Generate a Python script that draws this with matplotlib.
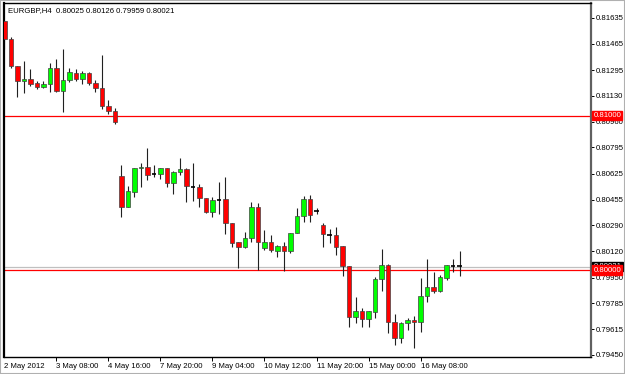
import matplotlib
matplotlib.use('Agg')
import matplotlib.pyplot as plt
import matplotlib.transforms as mtransforms
from matplotlib.patches import Rectangle
import numpy as np

plt.rcParams['font.family'] = ['Liberation Sans', 'DejaVu Sans']

# EURGBP H4 candles, 2 May 2012 00:00 onwards
opens = [0.81614, 0.81495, 0.81322, 0.81223, 0.81236, 0.81210, 0.81186, 0.81203, 0.81309, 0.81160,
         0.81229, 0.81279, 0.81240, 0.81275, 0.81214, 0.81181, 0.81065, 0.81032, 0.80609, 0.80410,
         0.80507, 0.80659, 0.80669, 0.80622, 0.80620, 0.80659, 0.80562, 0.80637, 0.80653, 0.80542,
         0.80536, 0.80465, 0.80378, 0.80458, 0.80458, 0.80307, 0.80183, 0.80151, 0.80209, 0.80410,
         0.80141, 0.80183, 0.80123, 0.80156, 0.80125, 0.80238, 0.80350, 0.80458, 0.80382, 0.80292,
         0.80233, 0.80227, 0.80156, 0.80028, 0.79697, 0.79734, 0.79682, 0.79730, 0.79940, 0.80032,
         0.79665, 0.79557, 0.79658, 0.79676, 0.79663, 0.79831, 0.79887, 0.79866, 0.79951, 0.80028,
         0.80025]
highs = [0.81614, 0.81512, 0.81322, 0.81356, 0.81301, 0.81225, 0.81225, 0.81340, 0.81369, 0.81430,
         0.81311, 0.81301, 0.81290, 0.81285, 0.81231, 0.81393, 0.81102, 0.81048, 0.80680, 0.80544,
         0.80659, 0.80695, 0.80789, 0.80680, 0.80659, 0.80659, 0.80644, 0.80724, 0.80659, 0.80692,
         0.80557, 0.80465, 0.80475, 0.80572, 0.80605, 0.80307, 0.80183, 0.80248, 0.80443, 0.80436,
         0.80259, 0.80227, 0.80162, 0.80183, 0.80242, 0.80400, 0.80480, 0.80486, 0.80400, 0.80307,
         0.80266, 0.80281, 0.80156, 0.80028, 0.79823, 0.79752, 0.79734, 0.79957, 0.80134, 0.80037,
         0.79715, 0.79665, 0.79689, 0.79702, 0.79948, 0.80069, 0.79987, 0.79968, 0.80032, 0.80071,
         0.80126]
lows = [0.81430, 0.81307, 0.81123, 0.81149, 0.81192, 0.81173, 0.81178, 0.81156, 0.81156, 0.81026,
        0.81220, 0.81225, 0.81205, 0.81199, 0.81156, 0.81043, 0.81011, 0.80946, 0.80345, 0.80406,
        0.80471, 0.80540, 0.80583, 0.80601, 0.80588, 0.80540, 0.80493, 0.80616, 0.80439, 0.80447,
        0.80410, 0.80371, 0.80345, 0.80363, 0.80231, 0.80147, 0.80015, 0.80141, 0.80180, 0.80000,
        0.80130, 0.80115, 0.80086, 0.79995, 0.80112, 0.80238, 0.80313, 0.80313, 0.80361, 0.80151,
        0.80175, 0.80097, 0.79963, 0.79629, 0.79658, 0.79629, 0.79633, 0.79687, 0.79864, 0.79594,
        0.79514, 0.79529, 0.79611, 0.79493, 0.79600, 0.79793, 0.79853, 0.79859, 0.79935, 0.79989,
        0.79959]
closes = [0.81495, 0.81322, 0.81225, 0.81238, 0.81203, 0.81186, 0.81203, 0.81309, 0.81160, 0.81231,
          0.81283, 0.81240, 0.81275, 0.81214, 0.81181, 0.81065, 0.81032, 0.80961, 0.80410, 0.80512,
          0.80659, 0.80669, 0.80616, 0.80616, 0.80659, 0.80562, 0.80637, 0.80653, 0.80544, 0.80536,
          0.80465, 0.80378, 0.80454, 0.80452, 0.80303, 0.80177, 0.80151, 0.80205, 0.80410, 0.80183,
          0.80183, 0.80130, 0.80156, 0.80125, 0.80242, 0.80350, 0.80458, 0.80356, 0.80380, 0.80233,
          0.80227, 0.80152, 0.80028, 0.79697, 0.79734, 0.79682, 0.79734, 0.79940, 0.80032, 0.79665,
          0.79557, 0.79657, 0.79676, 0.79665, 0.79831, 0.79887, 0.79866, 0.79953, 0.80032, 0.80025,
          0.80021]

price_ticks = [0.81635, 0.81465, 0.81295, 0.81130, 0.80960, 0.80795, 0.80625,
               0.80455, 0.80290, 0.80120, 0.79950, 0.79785, 0.79615, 0.79450]
time_pos = [0, 8, 16, 24, 32, 40, 48, 56, 64]
time_labels = ['2 May 2012', '3 May 08:00', '4 May 16:00', '7 May 20:00', '9 May 04:00',
               '10 May 12:00', '11 May 20:00', '15 May 00:00', '16 May 08:00']
levels = [0.81000, 0.80000]
bid = 0.80021

o = np.array(opens)
h = np.array(highs)
l = np.array(lows)
c = np.array(closes)
x = np.arange(len(o))

fs = 5.6

fig = plt.figure(figsize=(6.25, 3.74), dpi=100)
fig.patch.set_facecolor('white')
ax = fig.add_axes([3.5 / 625, 17 / 374, 587 / 625, 354 / 374])

ax.vlines(x, l, h, color='#202020', lw=0.8, zorder=2)
doji = np.abs(c - o) < 0.00008
up = (c >= o) & ~doji
dn = (c < o) & ~doji
w = 0.72
ax.bar(x[up], (c - o)[up], bottom=o[up], width=w, color='#00ff00', edgecolor='#404040', lw=0.5, zorder=3)
ax.bar(x[dn], (o - c)[dn], bottom=c[dn], width=w, color='#ff0000', edgecolor='#404040', lw=0.5, zorder=3)
ax.hlines((o[doji] + c[doji]) / 2, x[doji] - w / 2, x[doji] + w / 2, color='#000000', lw=1.2, zorder=3)

ax.axhline(bid, color='#c0c0c0', lw=0.9, zorder=1)
for lev in levels:
    ax.axhline(lev, color='#ff0000', lw=0.9, zorder=1)

ax.set_xlim(-0.15, 90.15)
ax.set_ylim(0.794362, 0.817304)

ax.yaxis.tick_right()
ax.set_yticks(price_ticks)
ax.set_yticklabels(['%.5f' % v for v in price_ticks])
ax.tick_params(axis='y', direction='out', length=2, width=0.7, pad=2, labelsize=fs, colors='#000000')

ax.set_xticks(time_pos)
ax.set_xticklabels(time_labels)
for lbl in ax.get_xticklabels():
    lbl.set_ha('left')
ax.tick_params(axis='x', direction='out', length=3, width=0.7, pad=1.5, labelsize=fs)
ax.xaxis.get_major_ticks()[0].tick1line.set_visible(False)

for sp in ax.spines.values():
    sp.set_color('#000000')
    sp.set_linewidth(1.0)
ax.spines['left'].set_linewidth(1.6)
ax.spines['right'].set_color('#606060')
ax.spines['right'].set_linewidth(1.6)

trans = mtransforms.blended_transform_factory(ax.transAxes, ax.transData)
ax.text(1.005, bid, '%.5f' % bid, transform=trans, color='white', fontsize=fs, va='center', ha='left',
        bbox=dict(boxstyle='square,pad=0.15', fc='#000000', ec='#000000'), clip_on=False, zorder=5)
for lev in levels:
    ax.text(1.005, lev, '%.5f' % lev, transform=trans, color='white', fontsize=fs, va='center', ha='left',
            bbox=dict(boxstyle='square,pad=0.15', fc='#ff0000', ec='#ff0000'), clip_on=False, zorder=6)

fig.text(8 / 625, 1 - 11 / 374, 'EURGBP,H4  %.5f %.5f %.5f %.5f' % (opens[-1], highs[-1], lows[-1], closes[-1]),
         fontsize=fs, va='center', ha='left')

fig.patches.append(Rectangle((0, 0), 1, 1, transform=fig.transFigure, fill=False,
                             edgecolor='#b0b0b0', lw=1.5))

fig.savefig('out.png', dpi=100)
